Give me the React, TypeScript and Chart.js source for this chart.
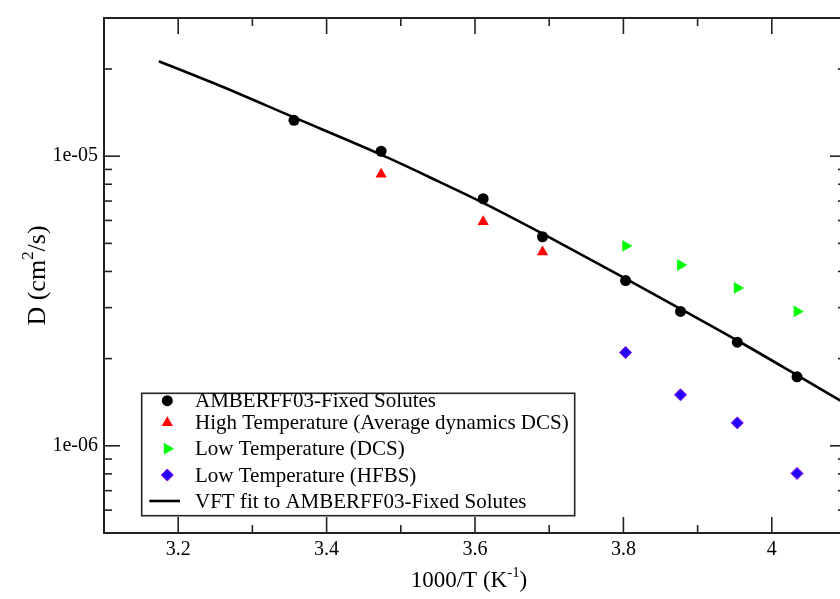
import React, { useEffect, useRef } from 'react';
import { Chart, registerables } from 'chart.js';

Chart.register(...registerables);

// ---- data (1000/T in K^-1, D in cm^2/s) ----
const amberX = [3.356, 3.4735, 3.611, 3.691, 3.803, 3.877, 3.9535, 4.034];
const amberD = [1.33e-5, 1.04e-5, 7.13e-6, 5.27e-6, 3.72e-6, 2.91e-6, 2.28e-6, 1.73e-6];
const highTX = [3.4735, 3.611, 3.691];
const highTD = [8.66e-6, 5.94e-6, 4.67e-6];
const lowDcsX = [3.803, 3.877, 3.9535, 4.034];
const lowDcsD = [4.9e-6, 4.21e-6, 3.51e-6, 2.91e-6];
const lowHfbsX = [3.803, 3.877, 3.9535, 4.034];
const lowHfbsD = [2.1e-6, 1.5e-6, 1.2e-6, 8.03e-7];
const vftX = [3.174, 3.25, 3.356, 3.4735, 3.55, 3.611, 3.691, 3.803, 3.877, 3.9535, 4.034, 4.1];
const vftD = [2.128e-5, 1.778e-5, 1.361e-5, 1.012e-5, 8.2e-6, 6.9e-6, 5.4e-6, 3.78e-6, 2.97e-6, 2.31e-6, 1.754e-6, 1.396e-6];

const seriesNames = [
  'AMBERFF03-Fixed Solutes',
  'High Temperature (Average dynamics DCS)',
  'Low Temperature (DCS)',
  'Low Temperature (HFBS)',
  'VFT fit to AMBERFF03-Fixed Solutes',
];

const xMin = 3.1;
const xMax = 4.1;
const yMin = 5e-7;
const yMax = 3e-5;
const xTickValues = [3.2, 3.4, 3.6, 3.8, 4.0];
const xTickLabels = ['3.2', '3.4', '3.6', '3.8', '4'];
const xMinorTicks = [3.3, 3.5, 3.7, 3.9];
const yTickValues = [1e-6, 1e-5];
const yTickLabels = ['1e-06', '1e-05'];
const yMinorTicks = [6e-7, 7e-7, 8e-7, 9e-7, 2e-6, 3e-6, 4e-6, 5e-6, 6e-6, 7e-6, 8e-6, 9e-6, 2e-5];

const SERIF = '"Liberation Serif", "Times New Roman", serif';
const RED = '#ff0000';
const GREEN = '#00ff00';
const BLUE = '#2200ff';
const PURPLE = '#8a00e0';

function drawMarker(ctx: CanvasRenderingContext2D, kind: number, x: number, y: number) {
  ctx.save();
  ctx.beginPath();
  if (kind === 0) {
    ctx.fillStyle = '#000';
    ctx.arc(x, y, 5.5, 0, Math.PI * 2);
    ctx.fill();
  } else if (kind === 1) {
    const r = 6.5;
    ctx.fillStyle = RED;
    ctx.moveTo(x, y - r);
    ctx.lineTo(x + r * 0.866, y + r * 0.5);
    ctx.lineTo(x - r * 0.866, y + r * 0.5);
    ctx.closePath();
    ctx.fill();
  } else if (kind === 2) {
    const r = 6.8;
    ctx.fillStyle = GREEN;
    ctx.moveTo(x + r, y);
    ctx.lineTo(x - r * 0.5, y + r * 0.866);
    ctx.lineTo(x - r * 0.5, y - r * 0.866);
    ctx.closePath();
    ctx.fill();
  } else if (kind === 3) {
    const r = 6;
    ctx.fillStyle = BLUE;
    ctx.strokeStyle = PURPLE;
    ctx.lineWidth = 1;
    ctx.moveTo(x - r, y);
    ctx.lineTo(x, y - r);
    ctx.lineTo(x + r, y);
    ctx.lineTo(x, y + r);
    ctx.closePath();
    ctx.fill();
    ctx.stroke();
  }
  ctx.restore();
}

export default function App() {
  const ref = useRef<HTMLCanvasElement>(null);

  useEffect(() => {
    const canvas = ref.current;
    if (!canvas) return;
    const pts = (xs: number[], ys: number[]) => xs.map((x, i) => ({ x, y: ys[i] }));

    const framePlugin = {
      id: 'framePlugin',
      afterDatasetsDraw(chart: any) {
        const { ctx, chartArea: a, scales } = chart;
        const xs = scales.x;
        const ys = scales.y;
        ctx.save();
        ctx.strokeStyle = '#222';
        ctx.lineWidth = 1.6;
        const seg = (x1: number, y1: number, x2: number, y2: number) => {
          ctx.beginPath();
          ctx.moveTo(x1, y1);
          ctx.lineTo(x2, y2);
          ctx.stroke();
        };
        const MAJ = 16;
        const MIN = 8;
        xTickValues.forEach((v) => {
          const p = xs.getPixelForValue(v);
          seg(p, a.bottom, p, a.bottom - MAJ);
          seg(p, a.top, p, a.top + MAJ);
        });
        xMinorTicks.forEach((v) => {
          const p = xs.getPixelForValue(v);
          seg(p, a.bottom, p, a.bottom - MIN);
          seg(p, a.top, p, a.top + MIN);
        });
        yTickValues.forEach((v) => {
          const p = ys.getPixelForValue(v);
          seg(a.left, p, a.left + MAJ, p);
          seg(a.right, p, a.right - MAJ, p);
        });
        yMinorTicks.forEach((v) => {
          const p = ys.getPixelForValue(v);
          seg(a.left, p, a.left + MIN, p);
          seg(a.right, p, a.right - MIN, p);
        });
        ctx.lineWidth = 2;
        ctx.strokeRect(a.left, a.top, a.right - a.left, a.bottom - a.top);

        // legend
        ctx.font = `21px ${SERIF}`;
        const textX = 195;
        const symX = 167.3;
        const rows = [400.7, 422.7, 448.7, 475, 501];
        let maxW = 0;
        seriesNames.forEach((n) => (maxW = Math.max(maxW, ctx.measureText(n).width)));
        const boxL = 141.7;
        const boxT = 393.3;
        const boxR = textX + maxW + 6;
        const boxB = 515.7;
        ctx.fillStyle = '#fff';
        ctx.fillRect(boxL, boxT, boxR - boxL, boxB - boxT);
        ctx.strokeStyle = '#222';
        ctx.lineWidth = 1.6;
        ctx.strokeRect(boxL, boxT, boxR - boxL, boxB - boxT);
        ctx.textBaseline = 'middle';
        ctx.textAlign = 'left';
        seriesNames.forEach((n, i) => {
          const cy = rows[i];
          if (i < 4) {
            drawMarker(ctx, i, symX, cy);
          } else {
            ctx.strokeStyle = '#000';
            ctx.lineWidth = 2.6;
            seg(149.3, cy, 180, cy);
          }
          ctx.fillStyle = '#000';
          ctx.font = `21px ${SERIF}`;
          ctx.fillText(n, textX, cy + 1);
        });

        // axis titles with superscripts
        const drawSup = (parts: [string, boolean][], size: number) => {
          let total = 0;
          const widths = parts.map(([t, sup]) => {
            ctx.font = `${sup ? size * 0.65 : size}px ${SERIF}`;
            const w = ctx.measureText(t).width;
            total += w;
            return w;
          });
          let cx = -total / 2;
          parts.forEach(([t, sup], i) => {
            ctx.font = `${sup ? size * 0.65 : size}px ${SERIF}`;
            ctx.fillText(t, cx, sup ? -size * 0.45 : 0);
            cx += widths[i];
          });
        };
        ctx.fillStyle = '#000';
        ctx.textBaseline = 'alphabetic';
        ctx.textAlign = 'left';
        ctx.save();
        ctx.translate(469, 587);
        drawSup([['1000/T (K', false], ['-1', true], [')', false]], 23);
        ctx.restore();
        ctx.save();
        ctx.translate(45, (a.top + a.bottom) / 2);
        ctx.rotate(-Math.PI / 2);
        drawSup([['D (cm', false], ['2', true], ['/s)', false]], 26);
        ctx.restore();

        ctx.restore();
      },
    };

    const chart = new Chart(canvas, {
      type: 'scatter',
      data: {
        datasets: [
          {
            label: seriesNames[4],
            data: pts(vftX, vftD),
            showLine: true,
            borderColor: '#000',
            backgroundColor: '#000',
            borderWidth: 2.6,
            pointRadius: 0,
            cubicInterpolationMode: 'monotone',
            order: 10,
          } as any,
          {
            label: seriesNames[0],
            data: pts(amberX, amberD),
            pointStyle: 'circle',
            pointRadius: 5.5,
            backgroundColor: '#000',
            borderColor: '#000',
            borderWidth: 0,
            order: 1,
          },
          {
            label: seriesNames[1],
            data: pts(highTX, highTD),
            pointStyle: 'triangle',
            pointRadius: 6.5,
            backgroundColor: RED,
            borderColor: RED,
            borderWidth: 0,
            order: 1,
          },
          {
            label: seriesNames[2],
            data: pts(lowDcsX, lowDcsD),
            pointStyle: 'triangle',
            pointRotation: 90,
            pointRadius: 6.8,
            backgroundColor: GREEN,
            borderColor: GREEN,
            borderWidth: 0,
            order: 1,
          },
          {
            label: seriesNames[3],
            data: pts(lowHfbsX, lowHfbsD),
            pointStyle: 'rectRot',
            pointRadius: 6,
            backgroundColor: BLUE,
            borderColor: PURPLE,
            borderWidth: 1,
            order: 1,
          },
        ],
      },
      options: {
        responsive: false,
        animation: false,
        devicePixelRatio: 1,
        layout: { padding: { top: 13, right: 14, left: 0, bottom: 0 } },
        plugins: {
          legend: { display: false },
          tooltip: { enabled: false },
          title: { display: false },
        },
        scales: {
          x: {
            type: 'linear',
            min: xMin,
            max: xMax,
            grid: { display: false, drawTicks: false },
            border: { display: false },
            afterBuildTicks: (s: any) => {
              s.ticks = xTickValues.map((v) => ({ value: v }));
            },
            afterFit: (s: any) => {
              s.height = 66;
            },
            ticks: {
              autoSkip: false,
              maxRotation: 0,
              padding: 5,
              color: '#000',
              font: { family: SERIF, size: 20 },
              callback: (_v: any, i: number) => xTickLabels[i],
            },
          },
          y: {
            type: 'logarithmic',
            min: yMin,
            max: yMax,
            grid: { display: false, drawTicks: false },
            border: { display: false },
            afterBuildTicks: (s: any) => {
              s.ticks = yTickValues.map((v) => ({ value: v }));
            },
            afterFit: (s: any) => {
              s.width = 104;
            },
            ticks: {
              autoSkip: false,
              padding: 6,
              color: '#000',
              font: { family: SERIF, size: 20 },
              callback: (_v: any, i: number) => yTickLabels[i],
            },
          },
        },
      } as any,
      plugins: [framePlugin],
    });
    return () => chart.destroy();
  }, []);

  return (
    <canvas
      ref={ref}
      width={860}
      height={599}
      style={{ position: 'fixed', left: 0, top: 0, width: 860, height: 599, background: '#fff' }}
    />
  );
}
